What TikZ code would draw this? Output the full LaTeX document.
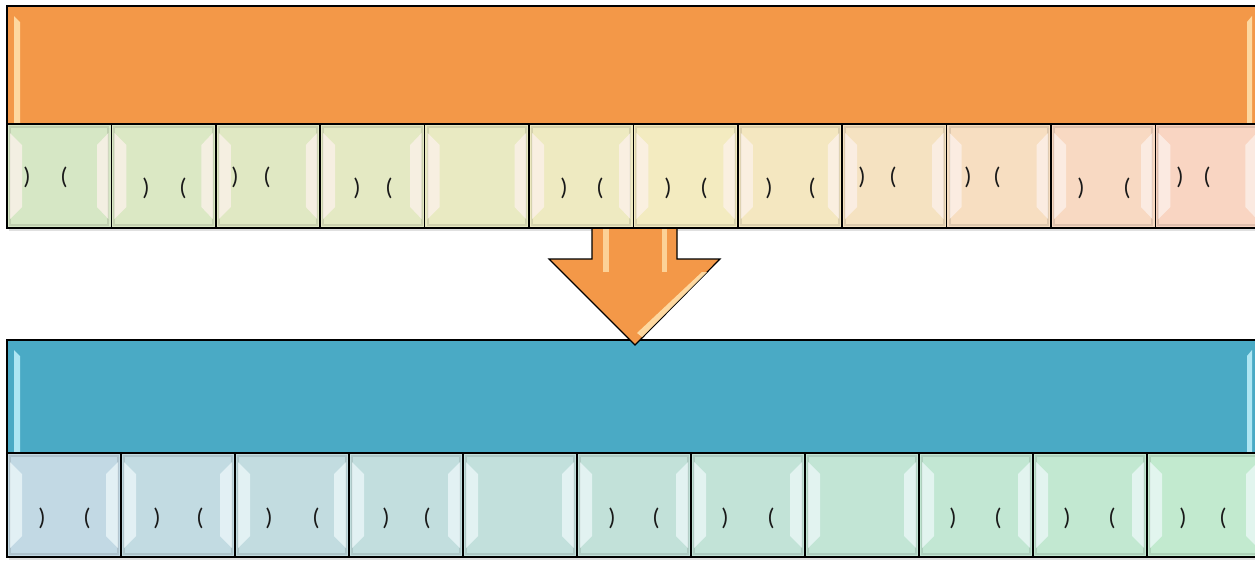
\documentclass[tikz,border=0pt]{standalone}
\usepackage{fontspec}
\setmainfont{Carlito}
\definecolor{barorange}{RGB}{243,152,72}
\definecolor{barblue}{RGB}{74,170,197}
\definecolor{TA}{RGB}{214,231,197}
\definecolor{TM}{RGB}{243,235,192}
\definecolor{TB}{RGB}{249,213,194}
\definecolor{BA}{RGB}{194,217,228}
\definecolor{BB}{RGB}{194,234,207}
\definecolor{hlorange}{RGB}{255,224,170}
\definecolor{hlblue}{RGB}{200,245,255}
\definecolor{bevcol}{RGB}{253,242,236}
\definecolor{bevblue}{RGB}{240,250,252}
\begin{document}
\begin{tikzpicture}[x=1pt,y=-1pt,
  barbox/.style={draw=black, line width=1.6pt, inner sep=0pt, outer sep=0pt, anchor=north west, minimum width=1270pt},
  cellbox/.style={draw=black, line width=1.6pt, inner sep=0pt, outer sep=0pt, anchor=north west, minimum height=104pt},
  paren/.style={font=\fontsize{24}{24}\selectfont, inner sep=0pt, text=black!90},
  bevel/.style={fill=bevcol, opacity=0.75, draw=none},
  bevelb/.style={fill=bevblue, opacity=0.7, draw=none},
  shade/.style={fill=black, opacity=0.12, draw=none}]
\useasboundingbox (0,0) rectangle (1255,560);
\clip (0,0) rectangle (1255,560);
\fill[white] (0,0) rectangle (1255,560);

% shadows
\path[shade] (9,9) rectangle (1270,231);
\path[shade] (9,343) rectangle (1270,560);

% ---------- bottom block ----------
\node[barbox, fill=barblue, minimum height=113pt] (bbar) at (7,340) {};
\fill[hlblue, opacity=0.8] (14,350) -- (20,356) -- (20,452) -- (14,452) -- cycle;
\fill[hlblue, opacity=0.8] (1252,350) -- (1247,356) -- (1247,452) -- (1252,452) -- cycle;
\foreach \i in {1,...,11}{
  \pgfmathsetmacro{\xx}{7+114*(\i-1)}
  \pgfmathsetmacro{\pp}{100-10*(\i-1)}
  \node[cellbox, minimum width=114pt, fill=BA!\pp!BB] (bc\i) at (\xx,453) {};
  \draw[black, opacity=0.1, line width=2pt] (\xx+3,456) rectangle (\xx+111,554);
  \path[bevelb] (\xx+3,462) -- (\xx+15,474) -- (\xx+15,536) -- (\xx+3,548) -- cycle;
  \path[bevelb] (\xx+111,462) -- (\xx+99,474) -- (\xx+99,536) -- (\xx+111,548) -- cycle;
}

% ---------- arrow ----------
\draw[fill=barorange, line width=1.2pt, line join=miter] (592,215) -- (677,215) -- (677,259) -- (720,259) -- (635,345) -- (549,259) -- (592,259) -- cycle;
\fill[hlorange, opacity=0.8] (603,228) rectangle (609,272);
\fill[hlorange, opacity=0.8] (662,228) rectangle (667,272);
\fill[hlorange, opacity=0.9] (702,272) -- (707,272) -- (642,337) -- (637,333) -- cycle;

% ---------- top block ----------
\node[barbox, fill=barorange, minimum height=118pt] (tbar) at (7,6) {};
\fill[hlorange, opacity=0.9] (14,16) -- (20,22) -- (20,123) -- (14,123) -- cycle;
\fill[hlorange, opacity=0.9] (1252,16) -- (1247,22) -- (1247,123) -- (1252,123) -- cycle;
\foreach \i in {1,...,12}{
  \pgfmathsetmacro{\xx}{7+104.4*(\i-1)}
  \ifnum\i<8
    \pgfmathsetmacro{\pp}{100-100*(\i-1)/6}
    \colorlet{cc}{TA!\pp!TM}
  \else
    \pgfmathsetmacro{\pp}{100-100*(\i-7)/5}
    \colorlet{cc}{TM!\pp!TB}
  \fi
  \node[cellbox, minimum width=104.4pt, fill=cc] (tc\i) at (\xx,124) {};
  \draw[black, opacity=0.1, line width=2pt] (\xx+3,127) rectangle (\xx+101.4,225);
  \path[bevel] (\xx+3,133) -- (\xx+15,145) -- (\xx+15,207) -- (\xx+3,219) -- cycle;
  \path[bevel] (\xx+101.4,133) -- (\xx+90,145) -- (\xx+90,207) -- (\xx+101.4,219) -- cycle;
}

% ---------- texts top ----------
\foreach \n/\a/\b/\y in {1/27/64/177, 2/146/183/188, 3/235/267/177, 4/357/389/188, 6/564/600/188, 7/668/704/188, 8/769/812/188, 9/862/893/177, 10/968/997/177, 11/1081/1127/188, 12/1180/1207/177}{
  \node[paren] (tr\n) at (\a,\y) {)};
  \node[paren] (tl\n) at (\b,\y) {(};
}
% ---------- texts bottom ----------
\foreach \n/\a/\b in {1/42/87, 2/157/200, 3/269/316, 4/386/427, 6/612/656, 7/725/771, 9/953/998, 10/1067/1112, 11/1183/1223}{
  \node[paren] (br\n) at (\a,518) {)};
  \node[paren] (bl\n) at (\b,518) {(};
}
\end{tikzpicture}
\end{document}
